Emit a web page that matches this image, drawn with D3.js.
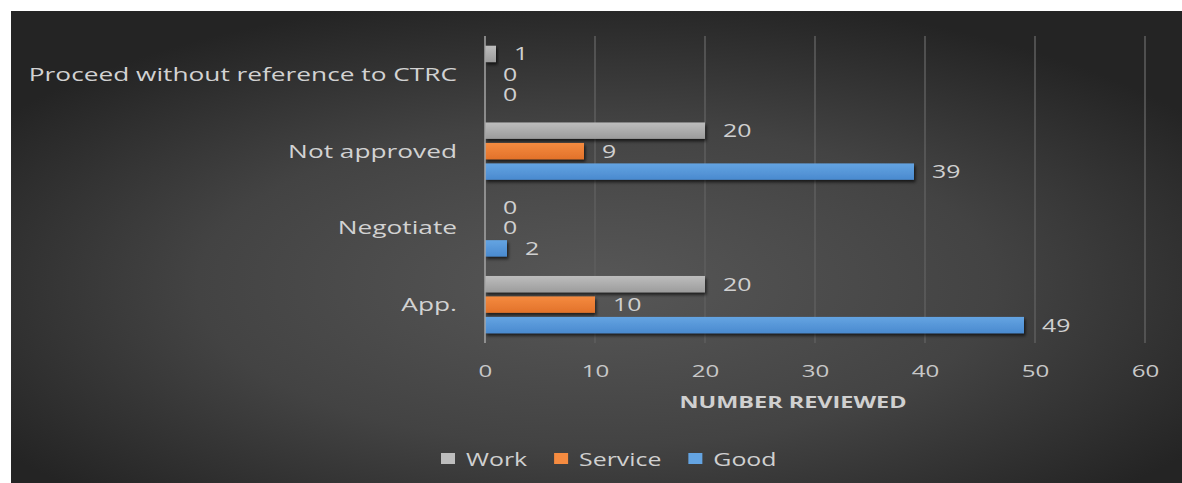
<!DOCTYPE html>
<html><head><meta charset="utf-8">
<script src="https://cdn.jsdelivr.net/npm/d3@7"></script>
<style>html,body{margin:0;padding:0;background:#fff;}svg{display:block;}</style>
</head><body>
<svg id="chart" width="1182" height="483"></svg>
<script>
const categories = ["App.", "Negotiate", "Not approved", "Proceed without reference to CTRC"];
const seriesNames = ["Work", "Service", "Good"];
const workValues = [20, 0, 20, 1];
const serviceValues = [10, 0, 9, 0];
const goodValues = [49, 2, 39, 0];
const xTicks = [0, 10, 20, 30, 40, 50, 60];
const axisTitle = "NUMBER REVIEWED";

const seriesValues = [workValues, serviceValues, goodValues];
const colors = {
  Work: ["#bdbdbd", "#9c9c9c"],
  Service: ["#f58b40", "#e2722a"],
  Good: ["#64a4e2", "#4a8acf"]
};
const SX = 1.42;
const font = "'Open Sans', 'Noto Sans', sans-serif";

const svg = d3.select("#chart");
const defs = svg.append("defs");
const rg = defs.append("radialGradient").attr("id", "bg")
  .attr("cx", "50%").attr("cy", "58%").attr("r", "62%");
rg.append("stop").attr("offset", "0%").attr("stop-color", "#575757");
rg.append("stop").attr("offset", "55%").attr("stop-color", "#434343");
rg.append("stop").attr("offset", "100%").attr("stop-color", "#242424");
seriesNames.forEach(s => {
  const lg = defs.append("linearGradient").attr("id", "g" + s).attr("x1", 0).attr("y1", 0).attr("x2", 0).attr("y2", 1);
  lg.append("stop").attr("offset", "0%").attr("stop-color", colors[s][0]);
  lg.append("stop").attr("offset", "100%").attr("stop-color", colors[s][1]);
});
const f = defs.append("filter").attr("id", "shadow").attr("x", "-10%").attr("y", "-30%").attr("width", "130%").attr("height", "200%");
f.append("feDropShadow").attr("dx", 1.5).attr("dy", 2.5).attr("stdDeviation", 1.5).attr("flood-color", "#000").attr("flood-opacity", 0.65);

svg.append("rect").attr("x", 11).attr("y", 11).attr("width", 1171).attr("height", 472).attr("fill", "url(#bg)");

const x = d3.scaleLinear().domain([0, 60]).range([485, 1145]);
const y0 = d3.scaleBand().domain(categories.slice().reverse()).range([36, 343]).paddingInner(0.2).paddingOuter(0.1);
const y1 = d3.scaleBand().domain(seriesNames).range([0, y0.bandwidth()]).paddingInner(0.2).paddingOuter(0.1);

function stretchedText(g, tx, ty, txt, anchor, size, color, weight) {
  return g.append("text")
    .attr("transform", `translate(${tx},${ty}) scale(${SX},1)`)
    .attr("text-anchor", anchor)
    .attr("font-family", font)
    .attr("font-size", size)
    .attr("font-weight", weight || "normal")
    .attr("fill", color)
    .text(txt);
}

// gridlines
const grid = svg.append("g");
grid.selectAll("line").data(xTicks.filter(t => t !== 0)).join("line")
  .attr("x1", d => x(d)).attr("x2", d => x(d))
  .attr("y1", 36).attr("y2", 343)
  .attr("stroke", "#5e5e5e").attr("stroke-width", 1.5);

// x axis via d3 axis (labels only)
const xAxis = d3.axisBottom(x).tickValues(xTicks).tickSize(0).tickFormat(d3.format("d"));
const ax = svg.append("g").attr("transform", "translate(0,358)").call(xAxis);
ax.select(".domain").remove();
ax.selectAll(".tick text")
  .attr("font-family", font).attr("font-size", 17).attr("fill", "#c8c8c8")
  .attr("y", 0).attr("dy", "1.1em")
  .attr("transform", `scale(${SX},1)`)
  .attr("x", 0);

// category labels via d3 axis
const yAxis = d3.axisLeft(y0).tickSize(0);
const ay = svg.append("g").attr("transform", "translate(485,0)").call(yAxis);
ay.select(".domain").remove();
ay.selectAll(".tick text")
  .attr("font-family", font).attr("font-size", 18.5).attr("fill", "#d2d2d2")
  .attr("x", 0).attr("dy", "0.35em")
  .attr("transform", `translate(-28,0) scale(${SX},1)`);

// bars
const groups = svg.append("g").selectAll("g").data(categories).join("g")
  .attr("transform", d => `translate(0,${y0(d)})`);
groups.selectAll("rect").data((c, i) => seriesNames.map((s, j) => ({ s, v: seriesValues[j][i] })))
  .join("rect")
  .filter(d => d.v > 0)
  .attr("x", x(0)).attr("y", d => y1(d.s))
  .attr("width", d => x(d.v) - x(0)).attr("height", y1.bandwidth())
  .attr("fill", d => `url(#g${d.s})`)
  .attr("filter", "url(#shadow)");

// value labels
groups.each(function (c, i) {
  const g = d3.select(this);
  seriesNames.forEach((s, j) => {
    const v = seriesValues[j][i];
    stretchedText(g, x(v) + 18, y1(s) + y1.bandwidth() / 2 + 6.5, String(v), "start", 17.5, "#d0d0d0");
  });
});

// zero axis line
svg.append("line").attr("x1", x(0)).attr("x2", x(0)).attr("y1", 36).attr("y2", 343)
  .attr("stroke", "#a6a6a6").attr("stroke-width", 1.5);

// axis title
stretchedText(svg, 793, 408, axisTitle, "middle", 16.5, "#d0d0d0", "bold");

// legend
const legend = svg.append("g");
let lx = 441;
seriesNames.forEach(s => {
  const g = legend.append("g");
  g.append("rect").attr("x", lx).attr("y", 453).attr("width", 14).attr("height", 11)
    .attr("fill", colors[s][0]);
  const t = stretchedText(g, lx + 25, 466, s, "start", 17.5, "#d0d0d0");
  const w = t.node().getComputedTextLength() * SX;
  lx += 25 + w + 27;
});
</script>
</body></html>
